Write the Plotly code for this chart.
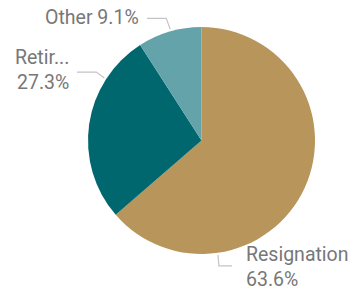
import math
import plotly.graph_objects as go

# ---- data ----
categories = ["Resignation", "Retirement", "Other"]
display_labels = ["Resignation", "Retir...", "Other"]
values = [7, 3, 1]
colors = ["#B8955A", "#01676F", "#65A3AA"]

W, H = 354, 290
CX, CY, R = 201.5, 140.5, 113.5

total = sum(values)
pcts = [v / total * 100 for v in values]

fig = go.Figure(go.Pie(
    labels=categories, values=values, sort=False, direction="clockwise", rotation=0,
    marker=dict(colors=colors, line=dict(width=0)),
    textinfo="none", hoverinfo="none", showlegend=False,
    domain=dict(x=[(CX - R) / W, (CX + R) / W], y=[1 - (CY + R) / H, 1 - (CY - R) / H]),
))

def px(x, y):
    return x / W, 1 - y / H

# label layout: fraction within slice for leader start, knee offset, end x, text anchor
layout_spec = {
    "Resignation": dict(frac=0.75, knee=(1, 11), endx=232, tx=244, ty=267, anchor="left", br=True),
    "Retirement": dict(frac=0.75, knee=(-8, -6), endx=77, tx=71, ty=70, anchor="right", br=True),
    "Other": dict(frac=0.52, knee=(-4, -11), endx=147, tx=141, ty=17, anchor="right", br=False),
}

start = 0.0
for cat, lab, v, p in zip(categories, display_labels, values, pcts):
    span = v / total * 360
    spec = layout_spec[cat]
    ang = math.radians(start + span * spec["frac"])
    sx = CX + (R + 2) * math.sin(ang)
    sy = CY - (R + 2) * math.cos(ang)
    kx, ky = sx + spec["knee"][0], sy + spec["knee"][1]
    ex = spec["endx"]
    x0, y0 = px(sx, sy); x1, y1 = px(kx, ky); x2, y2 = px(ex, ky)
    fig.add_shape(type="path", xref="paper", yref="paper",
                  path=f"M {x0} {y0} L {x1} {y1} L {x2} {y2}",
                  line=dict(color="#C4C4C4", width=1.2))
    sep = "<br>" if spec["br"] else " "
    ax, ay = px(spec["tx"], spec["ty"])
    fig.add_annotation(x=ax, y=ay, xref="paper", yref="paper", showarrow=False,
                       text=f"{lab}{sep}{p:.1f}%", xanchor=spec["anchor"], yanchor="middle",
                       align=spec["anchor"], font=dict(family="Roboto", size=19.5, color="#777777"))
    start += span

fig.update_layout(width=W, height=H, margin=dict(l=0, r=0, t=0, b=0),
                  paper_bgcolor="white", plot_bgcolor="white")
fig.write_html("out.html", config={"displayModeBar": False},
               post_script="document.body.style.margin='0';")
